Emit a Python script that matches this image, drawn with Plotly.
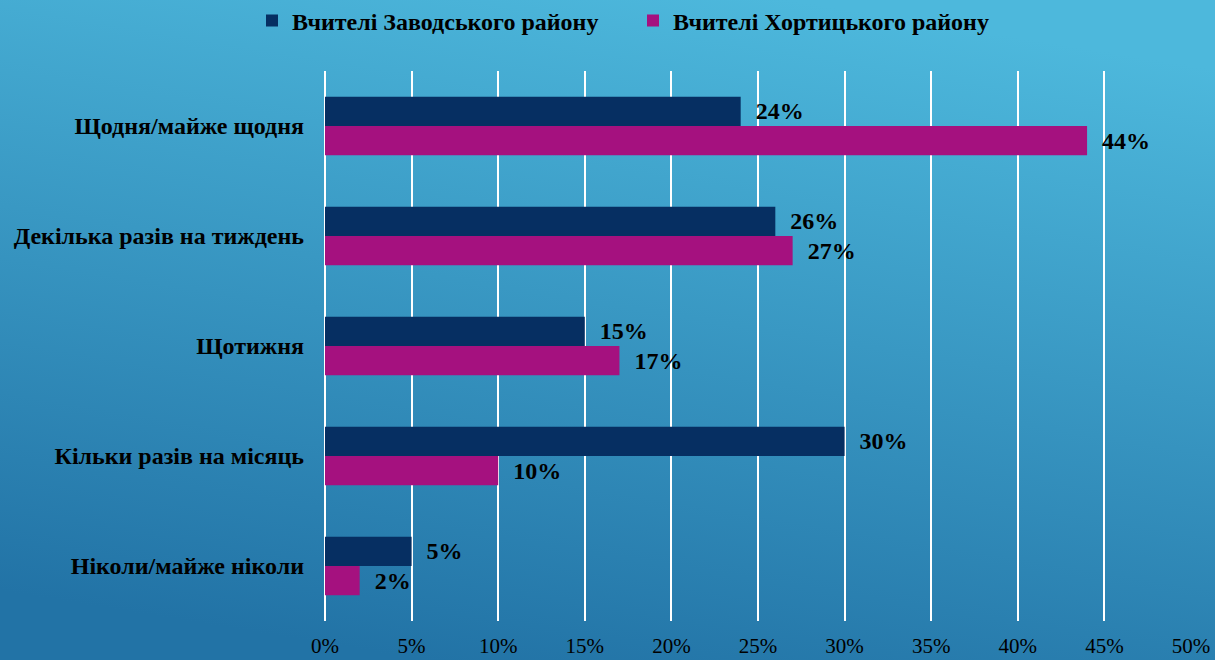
import base64
import plotly.graph_objects as go

categories = ["Щодня/майже щодня", "Декілька разів на тиждень", "Щотижня",
              "Кільки разів на місяць", "Ніколи/майже ніколи"]
series_names = ["Вчителі Заводського району", "Вчителі Хортицького району"]
zavodskyi = [24, 26, 15, 30, 5]
khortytskyi = [44, 27, 17, 10, 2]
x_ticks = [0, 5, 10, 15, 20, 25, 30, 35, 40, 45, 50]
x_tick_labels = [f"{v}%" for v in x_ticks]

W, H = 1215, 660
L, R, T, B = 325, 24, 71, 39
pw, ph = W - L - R, H - T - B

svg = f'''<svg xmlns="http://www.w3.org/2000/svg" width="{W}" height="{H}" viewBox="0 0 {W} {H}" preserveAspectRatio="none">
<defs><linearGradient id="g" x1="0.35" y1="1" x2="0.65" y2="0">
<stop offset="0" stop-color="#2273A6"/>
<stop offset="1" stop-color="#4DB8DC"/>
</linearGradient></defs>
<rect width="{W}" height="{H}" fill="url(#g)"/></svg>'''
uri = "data:image/svg+xml;base64," + base64.b64encode(svg.encode()).decode()

fig = go.Figure()
colors = ["#062F62", "#A5117F"]
for name, vals, c in zip(series_names, [zavodskyi, khortytskyi], colors):
    fig.add_trace(go.Bar(
        y=categories, x=vals, name=name, orientation="h",
        marker=dict(color=c, line=dict(width=0)),
        text=[f"  {v}%" for v in vals], textposition="outside",
        textfont=dict(family="Liberation Serif", size=24, color="black", weight="bold"),
        cliponaxis=False,
    ))

fig.update_layout(
    width=W, height=H,
    margin=dict(l=L, r=R, t=T, b=B, autoexpand=False),
    paper_bgcolor="#3A9CC9", plot_bgcolor="rgba(0,0,0,0)",
    barmode="group", bargap=0.47, bargroupgap=0,
    font=dict(family="Liberation Serif", color="black"),
    legend=dict(orientation="h", xref="container", yref="container",
                x=252 / W, xanchor="left", y=1 - 21 / H, yanchor="middle",
                font=dict(size=24, weight="bold"), traceorder="normal",
                bgcolor="rgba(0,0,0,0)", entrywidth=336, entrywidthmode="pixels"),
    images=[dict(source=uri, xref="paper", yref="paper",
                 x=-L / pw, y=1 + T / ph, sizex=W / pw, sizey=H / ph,
                 xanchor="left", yanchor="top", sizing="stretch", layer="below")],
    showlegend=True,
)
fig.update_xaxes(range=[0, 50], tickvals=x_ticks, ticktext=x_tick_labels,
                 showgrid=True, gridcolor="white", gridwidth=2,
                 zeroline=True, zerolinecolor="white", zerolinewidth=2,
                 tickfont=dict(size=21, color="black"), ticklabelstandoff=10,
                 showline=False, automargin=False)
fig.update_yaxes(autorange="reversed", showgrid=False,
                 tickfont=dict(size=24, color="black", weight="bold"),
                 ticklabelstandoff=20, showline=False, automargin=False)

fig.write_html("out.html", config={"displayModeBar": False},
               post_script="document.body.style.margin='0';document.body.style.overflow='hidden';")
